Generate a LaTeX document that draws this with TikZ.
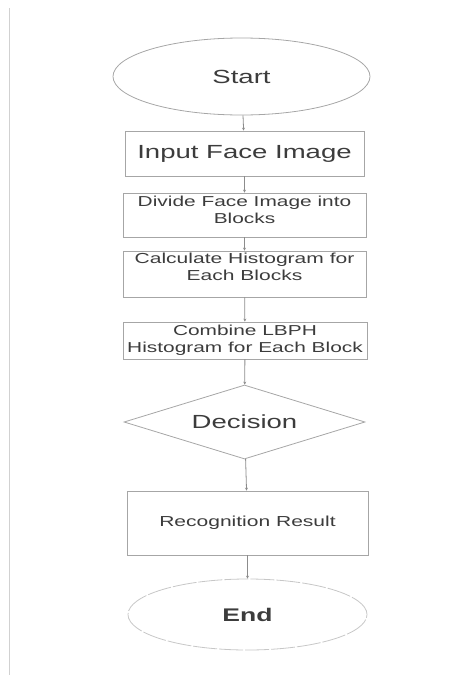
\documentclass[tikz,border=0pt]{standalone}
\usepackage{fontspec}
\usetikzlibrary{shapes.geometric,arrows.meta}
\newfontfamily\flowfont[FakeStretch=1.45]{Liberation Sans}
\definecolor{boxline}{HTML}{A6A6A6}
\definecolor{flowtext}{HTML}{3C3C3C}
\definecolor{arrline}{HTML}{8C8C8C}

\begin{document}
\begin{tikzpicture}[x=1pt,y=1pt,yscale=-1,xscale=1,
  every node/.style={font=\flowfont, text=flowtext, inner sep=0pt},
  stepbox/.style={draw=boxline, line width=0.8pt, rectangle, align=center},
  termbox/.style={draw=boxline, line width=0.8pt, ellipse},
  decbox/.style={draw=boxline, line width=0.8pt, diamond, aspect=3.26},
  arr/.style={draw=arrline, line width=0.8pt, -{Stealth[length=3pt,width=3pt]}}]
\useasboundingbox (0,0) rectangle (462,675);
% page edge
\draw [color=black!18, line width=0.6pt] (9,8) -- (9,675);

% Terminal: start
\node [termbox, minimum width=257pt, minimum height=77pt, font=\flowfont\fontsize{19}{22}\selectfont] (start) at (241.5,76.5) {Start};
% Step: input
\node [stepbox, minimum width=239pt, minimum height=45pt, font=\flowfont\fontsize{19}{22}\selectfont] (input) at (244.5,153.5) {Input Face Image};
% Step: divide
\node [stepbox, minimum width=243pt, minimum height=44pt, text height=20.6pt, text depth=4pt, font=\flowfont\fontsize{14.4}{16.5}\selectfont] (divide) at (244.5,215) {Divide Face Image into\\Blocks};
% Step: histogram
\node [stepbox, minimum width=243pt, minimum height=46pt, text height=16pt, text depth=4pt, font=\flowfont\fontsize{14.5}{16.5}\selectfont] (hist) at (244.5,274) {Calculate Histogram for\\Each Blocks};
% Step: combine
\node [stepbox, minimum width=244pt, minimum height=37pt, text height=27.6pt, text depth=4pt, font=\flowfont\fontsize{14.4}{16.5}\selectfont] (combine) at (245,340.5) {Combine LBPH\\Histogram for Each Block};
% Decision
\node [decbox, minimum width=241pt, minimum height=74pt, font=\flowfont\fontsize{19}{22}\selectfont] (decision) at (244.5,422) {Decision};
% Step: result
\node [stepbox, minimum width=241pt, minimum height=64pt, font=\flowfont\fontsize{14.5}{16.5}\selectfont] (result) at (247.5,523) {Recognition Result};
% Terminal: end
\node [termbox, draw=black!22, dash pattern=on 24pt off 2pt, minimum width=239pt, minimum height=71pt, font=\flowfont\bfseries\fontsize{18.3}{22}\selectfont] (end) at (247.5,614.5) {End};

% Connectors
\draw [arr] (start) -- (input);
\draw [arr] (input) -- (divide);
\draw [arr] (divide) -- (hist);
\draw [arr] (hist) -- (combine);
\draw [arr] (combine) -- (decision);
\draw [arr] (decision) -- (result);
\draw [arr] (result) -- (end);
\end{tikzpicture}
\end{document}
